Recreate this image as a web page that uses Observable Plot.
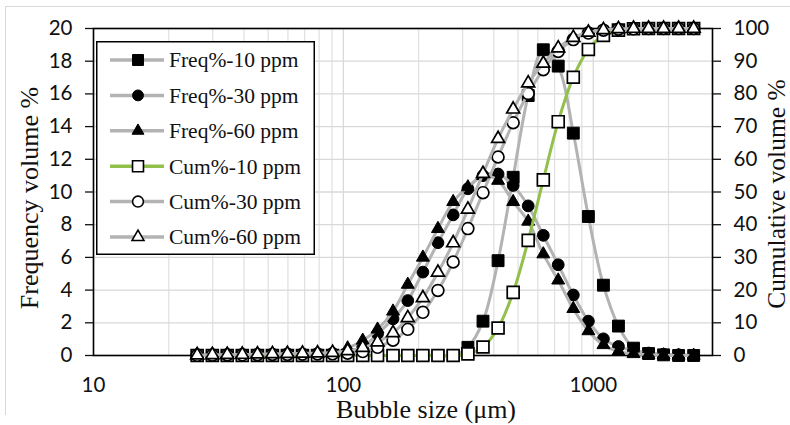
<!DOCTYPE html>
<html><head><meta charset="utf-8">
<script src="https://cdn.jsdelivr.net/npm/d3@7"></script>
<script src="https://cdn.jsdelivr.net/npm/@observablehq/plot@0.6"></script>
<style>
html,body{margin:0;padding:0;background:#fff;}
#wrap{position:relative;width:790px;height:425px;overflow:hidden;}
#wrap > svg.layer{position:absolute;left:0;top:0;}
#border{position:absolute;left:5px;top:6px;width:820px;height:408px;border-left:1.5px solid #d9d9d9;border-top:1.5px solid #d9d9d9;}
#wrap > svg#legend{position:absolute;left:96px;top:41px;}
</style></head><body><div id="wrap"><div id="border"></div></div>
<script>
// Bubble size classes (µm)
const sizes = [26.0, 29.9, 34.3, 39.4, 45.3, 52.0, 59.7, 68.6, 78.8, 90.5,
  104, 119.5, 137, 158, 181, 208, 239, 275, 315, 362,
  416, 478, 549, 631, 724, 832, 956, 1098, 1261, 1449,
  1664, 1911, 2195, 2522];
// Frequency volume % (left axis)
const freq10 = [0,0,0,0,0,0,0,0,0,0, 0,0,0,0,0,0,0,0, 0.5, 2.1,
  5.8, 10.9, 15.9, 18.7, 17.7, 13.6, 8.5, 4.3, 1.8, 0.45,
  0.12, 0.04, 0, 0];
const freq30 = [0.05,0.05,0.05,0.05,0.05,0.05,0.05,0.05,0.05,0.05,
  0.2, 0.5, 1.33, 2.24, 3.36, 5.1, 6.9, 8.6, 10.2, 11.0,
  11.1, 10.4, 9.15, 7.35, 5.55, 3.7, 2.1, 1.02, 0.55, 0.3,
  0.15, 0.08, 0.04, 0.02];
const freq60 = [0.08,0.08,0.08,0.08,0.08,0.08,0.08,0.08,0.08, 0.15,
  0.45, 0.92, 1.6, 2.7, 4.34, 6.0, 7.75, 9.4, 10.3, 11.0,
  10.7, 9.4, 8.2, 6.2, 4.6, 2.86, 1.5, 0.65, 0.25, 0.1,
  0.05, 0.02, 0, 0];
// Cumulative volume % (right axis)
const cum10 = [0,0,0,0,0,0,0,0,0,0, 0,0,0,0,0,0,0,0, 0.5, 2.6,
  8.4, 19.3, 35.2, 53.7, 71.5, 85.1, 93.6, 97.9, 99.5, 99.9,
  100, 100, 100, 100];
const cum30 = [0.05,0.1,0.15,0.2,0.25,0.3,0.35,0.4,0.45,0.5,
  0.7, 1.2, 2.5, 4.7, 8.0, 13.2, 19.9, 28.6, 38.8, 49.8,
  60.7, 71.2, 80.1, 87.4, 93.0, 96.6, 98.6, 99.5, 99.8, 99.9,
  100, 100, 100, 100];
const cum60 = [0.1,0.2,0.25,0.3,0.4,0.5,0.55,0.65,0.7, 0.9,
  1.4, 2.4, 4.1, 6.9, 11.5, 17.6, 25.4, 34.4, 44.7, 55.6,
  66.3, 75.3, 83.3, 89.3, 94.0, 97.2, 98.8, 99.6, 99.9, 100,
  100, 100, 100, 100];
const seriesNames = ["Freq%-10 ppm","Freq%-30 ppm","Freq%-60 ppm","Cum%-10 ppm","Cum%-30 ppm","Cum%-60 ppm"];
const leftTicks = [0,2,4,6,8,10,12,14,16,18,20];
const rightTicks = [0,10,20,30,40,50,60,70,80,90,100];
const xTickLabels = [10,100,1000];
const xMinorGrid = [20,30,40,50,60,70,80,90,200,300,400,500,600,700,800,900,2000,3000];

const GRAY = "#b3b3b3", GREEN = "#92c04a";
const styles = [
  {symbol:"square",   fill:"#000", line:GRAY,  r:6.7},
  {symbol:"circle",   fill:"#000", line:GRAY,  r:5.9},
  {symbol:"triangle", fill:"#000", line:GRAY,  r:4.8},
  {symbol:"square",   fill:"#fff", line:GREEN, r:6.7},
  {symbol:"circle",   fill:"#fff", line:GRAY,  r:5.9},
  {symbol:"triangle", fill:"#fff", line:GRAY,  r:4.8}
];
const toRows = vals => sizes.map((s,i)=>({size:s, value:vals[i]}));
const freqData = [freq10, freq30, freq60].map(toRows);
const cumData = [cum10, cum30, cum60].map(toRows);

const common = {
  width:790, height:425, marginLeft:93, marginRight:78, marginTop:28, marginBottom:70,
  x:{type:"log", domain:[10,3000], axis:null},
  style:{background:"none", fontFamily:"Lato", fontSize:"20.5px", color:"#111", overflow:"visible"}
};
function seriesMarks(datas, offset){
  const m = [];
  datas.forEach((d,i)=>{
    const st = styles[i+offset];
    m.push(Plot.line(d, {x:"size", y:"value", stroke:st.line, strokeWidth:3, curve:"catmull-rom"}));
    m.push(Plot.dot(d, {x:"size", y:"value", symbol:st.symbol, r:st.r, fill:st.fill,
      stroke:"#000", strokeWidth: st.fill === "#fff" ? 1.7 : 1}));
  });
  return m;
}
const serif = "'Liberation Serif', 'Times New Roman', serif";

const p1 = Plot.plot({
  ...common,
  y:{domain:[0,20], axis:null},
  marks:[
    Plot.ruleX(xMinorGrid, {stroke:"#e2e2e2", strokeWidth:1.3}),
    Plot.ruleX(xTickLabels, {stroke:"#d9d9d9", strokeWidth:1.3}),
    Plot.ruleY(leftTicks, {stroke:"#d9d9d9", strokeWidth:1.3}),
    Plot.frame({stroke:"#000", strokeWidth:1.6}),
    Plot.axisY({ticks:leftTicks, tickSize:8, tickPadding:13, label:null, strokeWidth:1.3}),
    Plot.axisX({ticks:xTickLabels, tickSize:0, tickPadding:22, tickFormat:d=>String(d), label:null}),
    ...seriesMarks(freqData, 0),
    Plot.text(["Frequency volume %"], {frameAnchor:"left", textAnchor:"middle", dx:-64, dy:6, rotate:-90, fontFamily:serif, fontSize:26, fill:"#111"}),
    Plot.text(["Bubble size (μm)"], {frameAnchor:"bottom", textAnchor:"middle", dx:23, dy:62, fontFamily:serif, fontSize:26, fill:"#111"})
  ]
});
const p2 = Plot.plot({
  ...common,
  y:{domain:[0,100], axis:null},
  marks:[
    Plot.axisY({anchor:"right", ticks:rightTicks, tickSize:8, tickPadding:13, label:null, strokeWidth:1.3}),
    ...seriesMarks(cumData, 3),
    Plot.text(["Cumulative volume %"], {frameAnchor:"right", textAnchor:"middle", dx:64, dy:2, rotate:-90, fontFamily:serif, fontSize:25.5, fill:"#111"})
  ]
});
p1.classList.add("layer");
p2.classList.add("layer");
const wrap = document.getElementById("wrap");
wrap.appendChild(p1);
wrap.appendChild(p2);

// Legend
const leg = d3.select(wrap).append("svg").attr("id","legend").attr("width",219).attr("height",214);
leg.append("rect").attr("x",0.75).attr("y",0.75).attr("width",217.5).attr("height",212.5)
  .attr("fill","#fff").attr("stroke","#000").attr("stroke-width",1.5);
const symMap = {square:d3.symbolSquare, circle:d3.symbolCircle, triangle:d3.symbolTriangle};
seriesNames.forEach((name,i)=>{
  const st = styles[i];
  const cy = 19 + i*35.4;
  leg.append("line").attr("x1",14).attr("x2",68).attr("y1",cy).attr("y2",cy)
    .attr("stroke",st.line).attr("stroke-width",3.5);
  leg.append("path").attr("transform",`translate(42,${cy})`)
    .attr("d", d3.symbol(symMap[st.symbol], Math.PI*st.r*st.r*0.85)())
    .attr("fill",st.fill).attr("stroke","#000").attr("stroke-width", st.fill==="#fff"?1.6:1);
  leg.append("text").attr("x",73).attr("y",cy).attr("dy","0.34em")
    .attr("font-family",serif).attr("font-size",21.5).attr("fill","#111").text(name);
});
</script>
</body></html>
